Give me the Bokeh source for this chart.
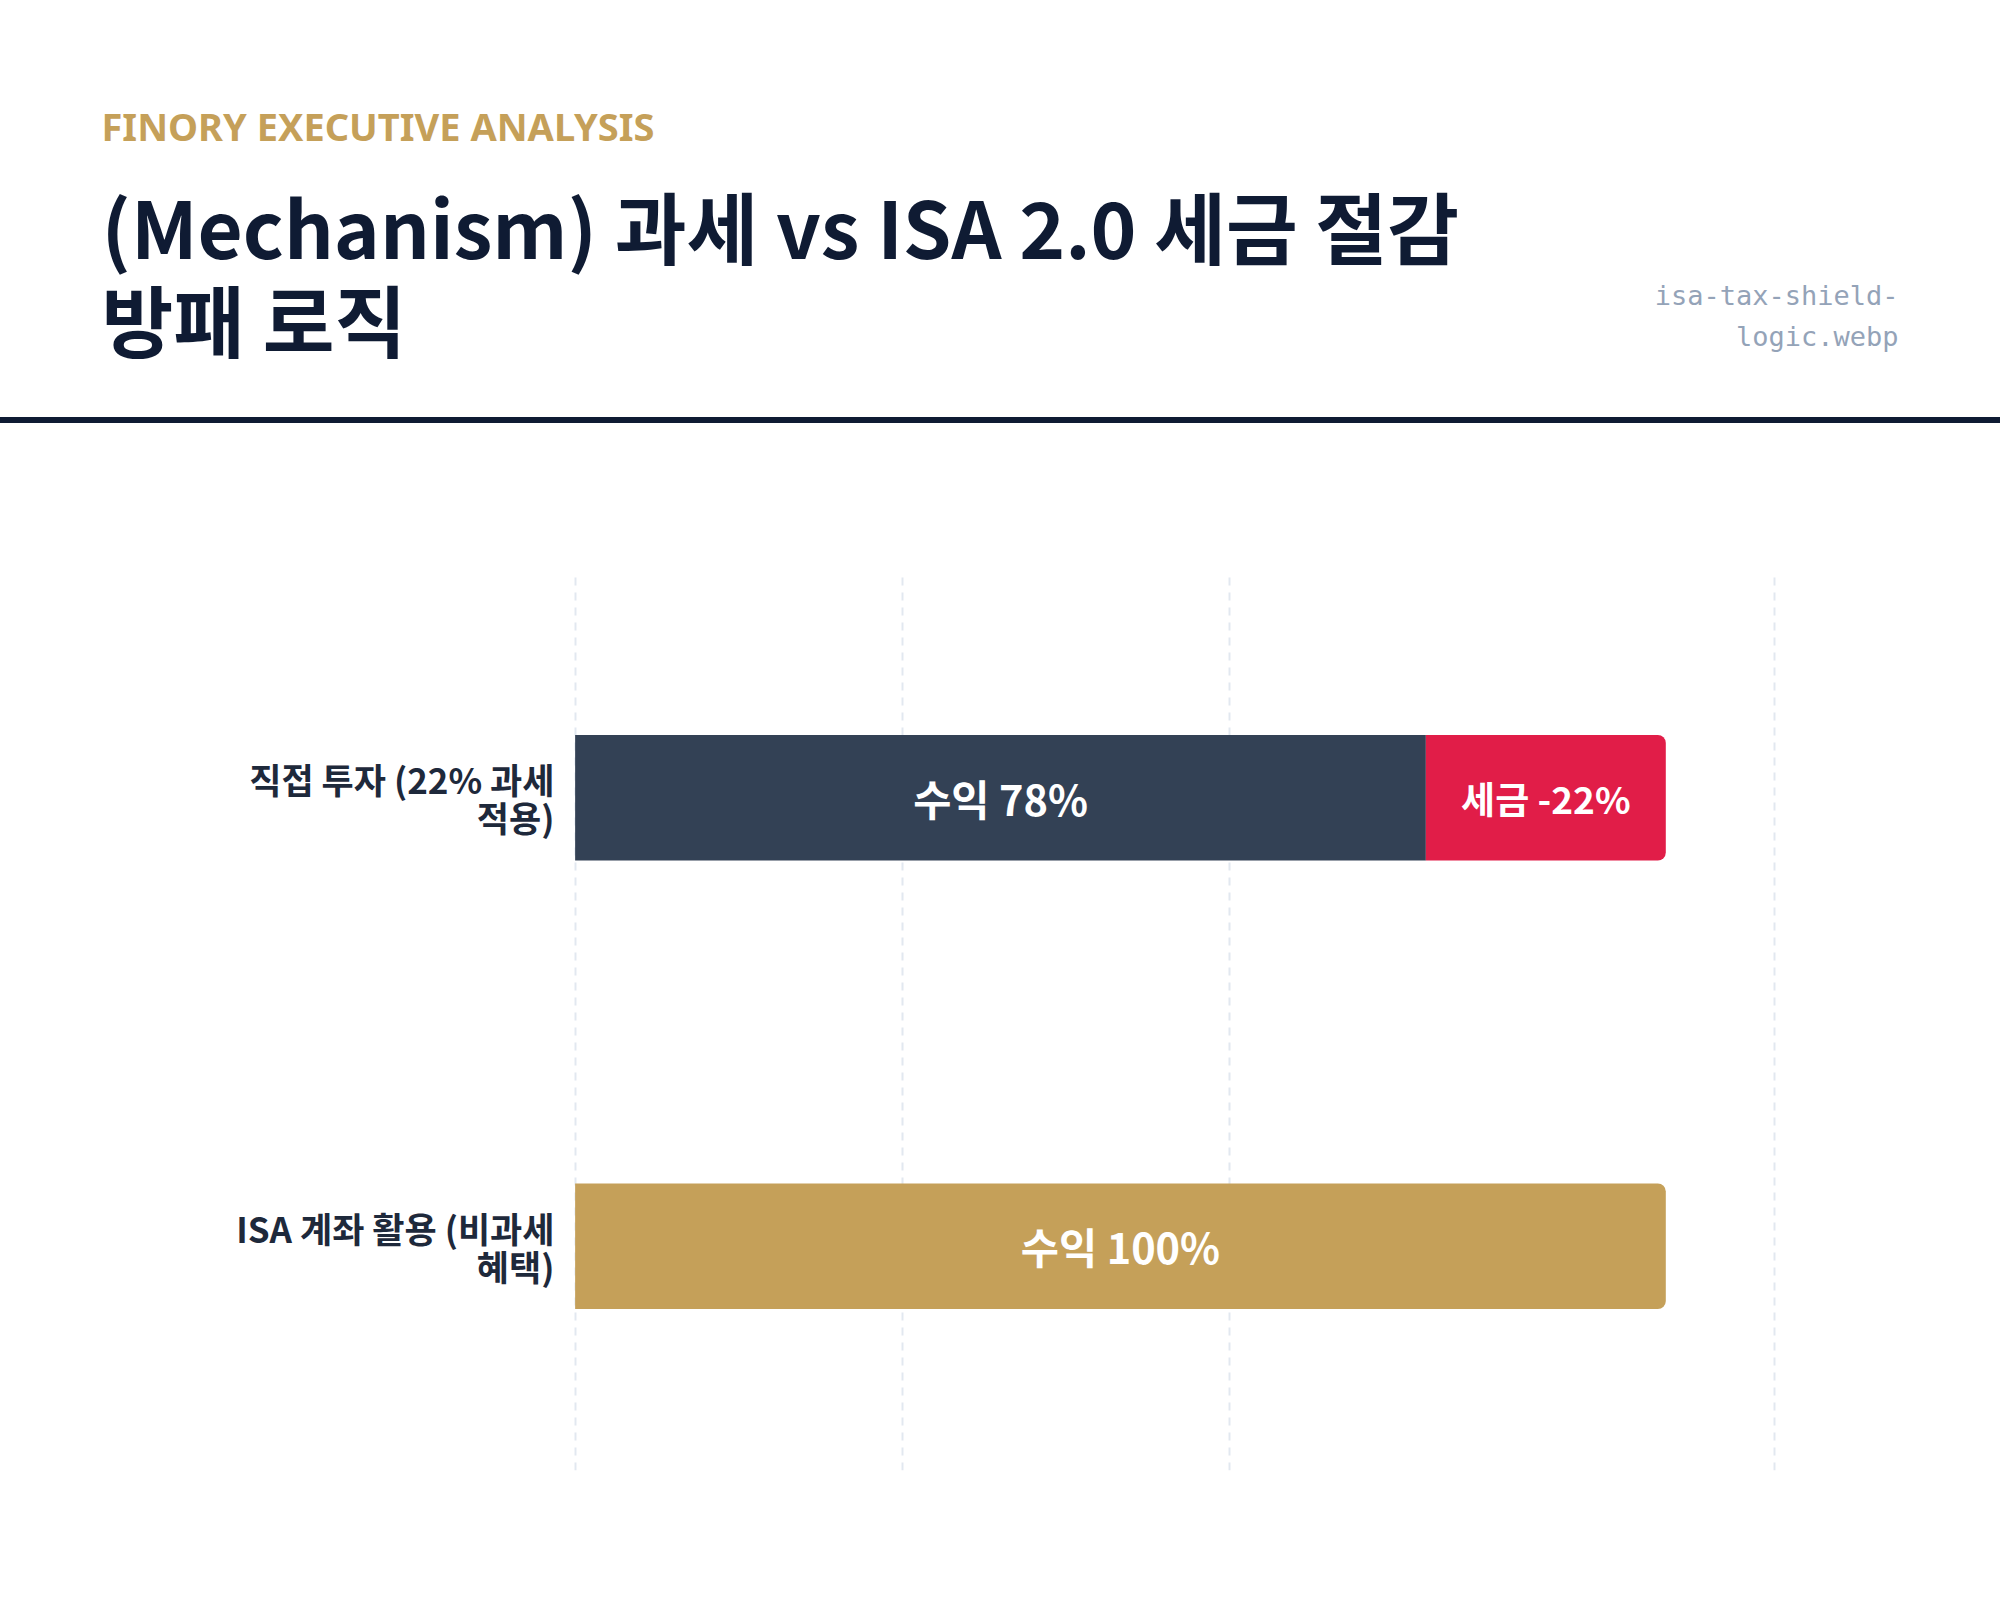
from bokeh.plotting import figure
from bokeh.models import Range1d, FactorRange, ColumnDataSource, LabelSet, Label, FixedTicker, Div
from bokeh.layouts import column
from bokeh.core.properties import value
from bokeh.embed import file_html
from bokeh.resources import INLINE

# ---------------- data ----------------
categories = ["직접 투자 (22% 과세\n적용)", "ISA 계좌 활용 (비과세\n혜택)"]
profit = [78, 100]
tax = [22, 0]
profit_labels = ["수익 78%", "수익 100%"]
tax_labels = ["세금 -22%", ""]
profit_colors = ["#334155", "#c5a059"]
tax_color = "#e11d48"
x_ticks = [0, 30, 60, 110]
x_min, x_max = -0.15, 110.15

kicker = "FINORY EXECUTIVE ANALYSIS"
title_lines = ["(Mechanism) 과세 vs ISA 2.0 세금 절감", "방패 로직"]
file_lines = ["isa-tax-shield-", "logic.webp"]

W = 2000
HEAD_H = 417
RULE_H = 6
CHART_H = 1622 - HEAD_H - RULE_H
NAVY = "#0f1b33"
GOLD = "#c5a059"
KR = "Noto Sans CJK KR"

# ---------------- header ----------------
head = figure(width=W, height=HEAD_H, x_range=Range1d(0, 1), y_range=Range1d(0, 1),
              toolbar_location=None, output_backend="svg", title_location=None, min_border=0)
head.axis.visible = False
head.grid.visible = False
head.outline_line_color = None
head.background_fill_color = "white"
head.border_fill_color = "white"

head.add_layout(Label(x=101, y=125, x_units="canvas", y_units="canvas", text=kicker,
                      text_font="Noto Sans", text_font_style="bold", text_font_size="38px",
                      text_color=GOLD, text_baseline="alphabetic", text_align="left"), "above")
for t, yy in zip(title_lines, [224, 317]):
    head.add_layout(Label(x=101, y=yy, x_units="canvas", y_units="canvas", text=t,
                          text_font=KR, text_font_style="bold", text_font_size="78px",
                          text_color=NAVY, text_baseline="alphabetic", text_align="left"), "above")
for t, yy in zip(file_lines, [295, 336]):
    head.add_layout(Label(x=1898, y=yy, x_units="canvas", y_units="canvas", text=t,
                          text_font="DejaVu Sans Mono", text_font_size="27px",
                          text_color="#94a3b8", text_baseline="alphabetic", text_align="right"), "above")

rule = Div(text="", width=W, height=RULE_H, margin=(0, 0, 0, 0),
           styles={"background-color": NAVY})

# ---------------- chart ----------------
p = figure(width=W, height=CHART_H, y_range=FactorRange(factors=categories[::-1]),
           x_range=Range1d(x_min, x_max), toolbar_location=None, output_backend="svg",
           title_location=None,
           min_border_left=573, min_border_right=224,
           min_border_top=573 - HEAD_H - RULE_H, min_border_bottom=152)
p.background_fill_color = "white"
p.border_fill_color = "white"
p.outline_line_color = None
p.xaxis.visible = False
p.ygrid.visible = False
p.xgrid.ticker = FixedTicker(ticks=x_ticks)
p.xgrid.grid_line_color = "#e2e8f0"
p.xgrid.grid_line_width = 2
p.xgrid.grid_line_dash = "8 7"

p.yaxis.axis_line_color = None
p.yaxis.major_tick_line_color = None
p.yaxis.minor_tick_line_color = None
p.yaxis.major_label_text_font = KR
p.yaxis.major_label_text_font_style = "bold"
p.yaxis.major_label_text_font_size = "35px"
p.yaxis.major_label_text_color = "#1e293b"
p.yaxis.major_label_standoff = 13
p.yaxis.major_label_text_line_height = 0.75

BAR_H = 0.28
flat_idx = [i for i in range(len(categories)) if tax[i] > 0]
round_idx = [i for i in range(len(categories)) if tax[i] == 0]


def src(idx):
    return ColumnDataSource(dict(
        y=[categories[i] for i in idx],
        left=[0 for i in idx],
        right=[profit[i] for i in idx],
        color=[profit_colors[i] for i in idx],
        mid=[profit[i] / 2 for i in idx],
        label=[profit_labels[i] for i in idx],
    ))


s_flat = src(flat_idx)
s_round = src(round_idx)
p.hbar(y="y", left="left", right="right", height=BAR_H, color="color", line_color=None, source=s_flat)
p.hbar(y="y", left="left", right="right", height=BAR_H, color="color", line_color=None, source=s_round,
       border_radius=(0, 8, 8, 0))

s_tax = ColumnDataSource(dict(
    y=[categories[i] for i in flat_idx],
    left=[profit[i] for i in flat_idx],
    right=[profit[i] + tax[i] for i in flat_idx],
    mid=[profit[i] + tax[i] / 2 for i in flat_idx],
    label=[tax_labels[i] for i in flat_idx],
))
p.hbar(y="y", left="left", right="right", height=BAR_H, color=tax_color, line_color=None, source=s_tax,
       border_radius=(0, 8, 8, 0))

for s in (s_flat, s_round):
    p.add_layout(LabelSet(x="mid", y="y", text="label", source=s, text_align="center",
                          text_baseline="middle", text_color="white", text_font=value(KR),
                          text_font_style="bold", text_font_size="41.5px"))
p.add_layout(LabelSet(x="mid", y="y", text="label", source=s_tax, text_align="center",
                      text_baseline="middle", text_color="white", text_font=value(KR),
                      text_font_style="bold", text_font_size="37px"))

layout = column(head, rule, p, spacing=0)
open("out.html", "w").write(file_html(layout, INLINE))
